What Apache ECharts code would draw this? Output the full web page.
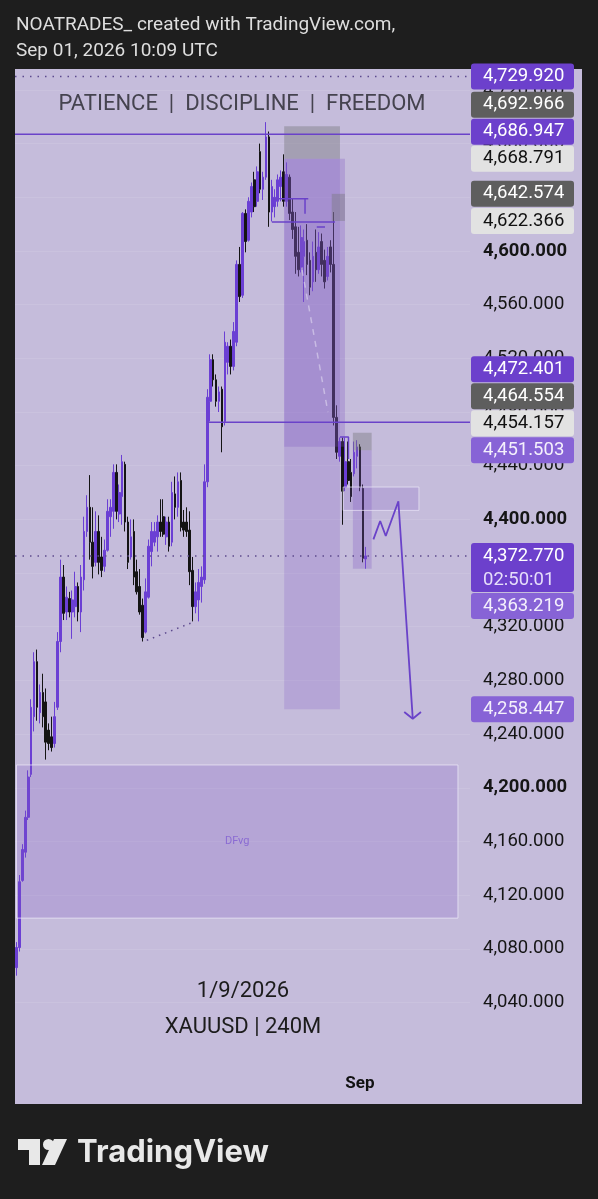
<!DOCTYPE html>
<html><head><meta charset="utf-8">
<script src="https://cdn.jsdelivr.net/npm/echarts@6/dist/echarts.min.js"></script>
<style>html,body{margin:0;padding:0;background:#1e1e1e;}#c{width:598px;height:1199px;}</style>
</head><body><div id="c"></div>
<script>
// ---------- data ----------
// XAUUSD 240M candles: [open, close, low, high]
const candles = [
[4066,4081,4060,4085],[4081,4130,4078,4135],[4131,4154,4130,4158],[4152,4178,4148,4183],
[4178,4208,4176,4213],[4210,4260,4208,4266],[4253,4294,4242,4301],[4294,4260,4250,4303],
[4256,4271,4248,4277],[4271,4253,4245,4285],[4264,4234,4221,4274],[4243,4233,4228,4248],
[4238,4230,4227,4253],[4233,4253,4230,4264],[4260,4309,4258,4316],[4309,4357,4301,4370],
[4357,4330,4325,4366],[4331,4342,4325,4350],[4341,4331,4327,4346],[4331,4340,4311,4347],
[4335,4350,4327,4361],[4350,4331,4324,4353],[4331,4357,4316,4366],[4355,4391,4347,4402],
[4391,4409,4387,4418],[4409,4383,4370,4433],[4383,4365,4356,4409],[4368,4391,4365,4406],
[4391,4368,4359,4403],[4372,4362,4357,4387],[4365,4377,4361,4385],[4377,4406,4376,4415],
[4402,4409,4387,4415],[4406,4435,4393,4441],[4435,4406,4400,4441],[4404,4420,4398,4426],
[4417,4443,4396,4448],[4441,4398,4391,4443],[4398,4368,4363,4402],[4372,4387,4370,4400],
[4391,4357,4351,4400],[4361,4346,4344,4370],[4350,4331,4329,4363],[4336,4312,4309,4341],
[4316,4346,4315,4356],[4342,4380,4341,4385],[4376,4391,4365,4398],[4383,4391,4380,4398],
[4387,4398,4376,4403],[4398,4391,4387,4415],[4402,4389,4387,4415],[4387,4398,4381,4402],
[4398,4380,4376,4402],[4383,4420,4380,4428],[4419,4409,4400,4432],[4409,4428,4402,4435],
[4429,4394,4391,4435],[4398,4392,4387,4407],[4398,4391,4387,4409],[4392,4361,4351,4406],
[4362,4335,4324,4372],[4335,4346,4330,4353],[4340,4353,4324,4363],[4350,4357,4338,4365],
[4355,4428,4352,4441],[4428,4491,4424,4497],[4488,4519,4473,4523],[4519,4504,4499,4523],
[4504,4488,4484,4508],[4488,4495,4480,4499],[4497,4469,4450,4499],[4473,4532,4470,4540],
[4517,4529,4508,4532],[4529,4514,4508,4534],[4514,4540,4511,4547],[4532,4590,4529,4593],
[4590,4566,4562,4603],[4567,4628,4565,4629],[4628,4607,4599,4631],[4608,4637,4607,4640],
[4629,4648,4625,4651],[4653,4633,4629,4659],[4637,4659,4633,4663],[4674,4646,4643,4680],
[4646,4655,4638,4659],[4655,4685,4653,4696],[4685,4629,4618,4689],[4629,4648,4622,4653],
[4633,4640,4625,4646],[4637,4653,4633,4657],[4648,4655,4637,4660],[4659,4637,4633,4672],
[4637,4657,4633,4666],[4655,4628,4623,4657],[4629,4616,4609,4639],[4618,4596,4583,4629],
[4599,4586,4581,4618],[4588,4610,4584,4619],[4596,4607,4562,4616],[4608,4590,4582,4620],
[4593,4573,4567,4599],[4577,4596,4570,4607],[4599,4586,4577,4616],[4586,4603,4583,4614],
[4607,4590,4581,4613],[4593,4577,4572,4601],[4581,4596,4578,4603],[4603,4590,4584,4608],
[4590,4476,4470,4629],[4476,4450,4445,4485],[4447,4458,4443,4461],[4458,4421,4396,4461],
[4424,4443,4421,4461],[4443,4429,4426,4458],[4435,4417,4413,4445],[4434,4450,4432,4458],
[4447,4454,4438,4459],[4454,4424,4421,4456],[4423,4371,4368,4426],[4370.5,4372.77,4363.22,4379.5]
];
const slotCount = 155;                       // bar slots on the time axis (incl. right margin)
const timeTicks = [{ index: 117, label: 'Sep' }];
const priceRange = [3962.9, 4734.1];
const priceTicks = [4040,4080,4120,4160,4200,4240,4280,4320,4360,4400,4440,4480,4520,4560,4600,4640,4680,4720];
const currentPrice = 4372.770;
const countdown = '02:50:01';
// drawings: [bar index, price]
const levelLines = [ { from: -0.5, price: 4686.947 }, { from: 64.9, price: 4472.401 } ];
const dottedLevels = [4729.920, currentPrice];
const lowsTrendline = [[44.4, 4309.9], [60.3, 4323.5]];
const structureMarks = [
  [[87.0, 4639.0], [99.4, 4639.0]],
  [[98.3, 4639.0], [98.3, 4627.8]],
  [[87.0, 4621.6], [108.5, 4621.6]],
  [[102.3, 4617.9], [105.1, 4617.9]],
  [[110.2, 4461.4], [113.1, 4461.4], [113.1, 4445.0]]
];
const dashedPath = [[97.3, 4585.8], [106.1, 4480.0]];
const projection = [[121.6, 4385.1], [123.9, 4398.8], [125.8, 4387.6], [130.1, 4413.5], [135.0, 4251.5]];
const arrowHead = [[132.1, 4256.5], [135.0, 4251.5], [137.8, 4256.5]];
// boxes: [x0, x1, priceTop, priceBottom]
const zoneBoxes = [[91.2, 110.2, 4668.791, 4258.447]];
const zoneUpperBoxes = [[91.2, 111.9, 4668.791, 4454.157]];
const greyBoxes = [[91.2, 110.2, 4692.966, 4668.791], [107.4, 111.9, 4642.574, 4622.366], [114.6, 121.0, 4464.554, 4451.503]];
const entryBoxes = [[114.6, 121.0, 4451.503, 4363.219]];
const targetBoxes = [[111.3, 137.1, 4424.1, 4406.7]];
const fvgBoxes = [[0.0, 150.4, 4217.0, 4102.9, 'DFvg']];
const priceLabels = [
  { price: 4729.920, kind: 'purple' }, { price: 4692.966, kind: 'dark' },
  { price: 4686.947, kind: 'purple' }, { price: 4668.791, kind: 'light' },
  { price: 4642.574, kind: 'dark' },   { price: 4622.366, kind: 'light' },
  { price: 4472.401, kind: 'purple' }, { price: 4464.554, kind: 'dark' },
  { price: 4454.157, kind: 'light' },  { price: 4451.503, kind: 'soft' },
  { price: currentPrice, kind: 'purple', sub: countdown },
  { price: 4363.219, kind: 'soft' },   { price: 4258.447, kind: 'soft' }
];
const headerLines = ['NOATRADES_ created with TradingView.com,', 'Sep 01, 2026 10:09 UTC'];
const watermarkTop = 'PATIENCE  |  DISCIPLINE  |  FREEDOM';
const watermarkBottom = ['1/9/2026', 'XAUUSD | 240M'];

// ---------- chart ----------
const FONT = 'Roboto, "Noto Sans", sans-serif';
const slots = Array.from({ length: slotCount }, (_, i) => String(i));
const tickMap = {}; timeTicks.forEach(t => tickMap[t.index] = t.label);
const fmt = v => { const s = Number(v).toFixed(3).split('.'); return s[0].replace(/\B(?=(\d{3})+(?!\d))/g, ',') + '.' + s[1]; };

const chart = echarts.init(document.getElementById('c'), null, { renderer: 'canvas', width: 598, height: 1199 });

function boxSeries(name, boxes, style, z) {
  return {
    type: 'custom', name, xAxisIndex: 1, yAxisIndex: 0, z, silent: true,
    data: boxes.map((b, i) => [b[0], b[1], b[2], b[3], i]),
    renderItem(params, api) {
      const b = boxes[api.value(4)];
      const p0 = api.coord([b[0], b[2]]);
      const p1 = api.coord([b[1], b[3]]);
      const children = [{ type: 'rect', shape: { x: p0[0], y: p0[1], width: p1[0] - p0[0], height: p1[1] - p0[1] }, style }];
      if (b[4]) children.push({ type: 'text', style: { text: b[4], x: (p0[0] + p1[0]) / 2, y: (p0[1] + p1[1]) / 2, align: 'center', verticalAlign: 'middle', fill: '#8a6bd3', font: '11px ' + FONT } });
      return { type: 'group', children };
    }
  };
}
function lineSeries(points, lineStyle, z) {
  return { type: 'line', xAxisIndex: 1, yAxisIndex: 0, data: points, symbol: 'none', silent: true, z, lineStyle, animation: false };
}

const series = [
  {
    type: 'candlestick', xAxisIndex: 0, yAxisIndex: 0, data: candles, z: 2, barWidth: 2.2,
    itemStyle: { color: '#6b3fd4', color0: '#141414', borderColor: '#6b3fd4', borderColor0: '#141414', borderWidth: 1 }
  },
  boxSeries('fvg', fvgBoxes, { fill: 'rgba(126,87,194,0.22)', stroke: 'rgba(236,232,248,0.75)', lineWidth: 1 }, 3),
  boxSeries('zone', zoneBoxes, { fill: 'rgba(126,87,194,0.22)' }, 3),
  boxSeries('zoneUpper', zoneUpperBoxes, { fill: 'rgba(126,87,194,0.28)' }, 3),
  boxSeries('grey', greyBoxes, { fill: 'rgba(120,120,125,0.42)' }, 3),
  boxSeries('entry', entryBoxes, { fill: 'rgba(126,87,194,0.28)' }, 3),
  boxSeries('target', targetBoxes, { fill: 'rgba(126,87,194,0.2)', stroke: 'rgba(236,232,248,0.7)', lineWidth: 1 }, 3),
];
levelLines.forEach(l => series.push(lineSeries([[l.from, l.price], [slotCount - 0.5, l.price]], { color: '#6a42c9', width: 1.5 }, 5)));
dottedLevels.forEach(p => series.push(lineSeries([[-0.5, p], [slotCount - 1.5, p]], { color: '#5d4a8e', width: 1.5, type: [1.5, 6] }, 5)));
series.push(lineSeries(lowsTrendline, { color: '#5d4a8e', width: 1.5, type: [1.5, 5] }, 5));
structureMarks.forEach(s => series.push(lineSeries(s, { color: '#6a42c9', width: 1.5 }, 5)));
series.push(lineSeries(dashedPath, { color: 'rgba(236,232,248,0.5)', width: 1.5, type: [6, 6] }, 5));
series.push(lineSeries(projection, { color: '#6a42c9', width: 1.8 }, 5));
series.push(lineSeries(arrowHead, { color: '#6a42c9', width: 1.8 }, 5));

const staticGraphic = [
  { id: 'bg', type: 'rect', z: -5, shape: { x: 15, y: 69, width: 567, height: 1035 }, style: { fill: '#c5bcdb' }, silent: true },
  { id: 'h1', type: 'text', x: 16, y: 25, style: { text: headerLines[0], fill: '#dedede', font: '19px ' + FONT, verticalAlign: 'middle' } },
  { id: 'h2', type: 'text', x: 16, y: 51, style: { text: headerLines[1], fill: '#dedede', font: '19px ' + FONT, verticalAlign: 'middle' } },
  { id: 'wm1', type: 'text', z: -1, x: 242, y: 104, style: { text: watermarkTop, fill: '#45434f', font: '22px ' + FONT, align: 'center', verticalAlign: 'middle' } },
  { id: 'wm2', type: 'text', z: -1, x: 243, y: 991, style: { text: watermarkBottom[0], fill: '#1c1c1c', font: '22px ' + FONT, align: 'center', verticalAlign: 'middle' } },
  { id: 'wm3', type: 'text', z: -1, x: 243, y: 1027, style: { text: watermarkBottom[1], fill: '#1c1c1c', font: '22px ' + FONT, align: 'center', verticalAlign: 'middle' } },
  // TradingView logo
  { id: 'lg1', type: 'polygon', shape: { points: [[18, 1139], [40, 1139], [40, 1165], [29, 1165], [29, 1150], [18, 1150]] }, style: { fill: '#e8e8e8' } },
  { id: 'lg2', type: 'circle', shape: { cx: 48.5, cy: 1144.5, r: 5.5 }, style: { fill: '#e8e8e8' } },
  { id: 'lg3', type: 'polygon', shape: { points: [[54, 1139], [67, 1139], [55, 1165], [42, 1165]] }, style: { fill: '#e8e8e8' } },
  { id: 'lg4', type: 'text', x: 77, y: 1153, style: { text: 'TradingView', fill: '#e8e8e8', font: 'bold 31px Inter, "Open Sans", sans-serif', verticalAlign: 'middle' } }
];

chart.setOption({
  animation: false,
  backgroundColor: '#1e1e1e',
  grid: { left: 15, right: 128, top: 71, bottom: 93, containLabel: false },
  xAxis: [
    { type: 'category', data: slots, boundaryGap: true, axisLine: { show: false }, axisTick: { show: false }, splitLine: { show: false },
      axisLabel: { inside: true, margin: 14, interval: (i) => tickMap[i] !== undefined, formatter: (v, i) => tickMap[i] || '',
        color: '#111', fontWeight: 'bold', fontSize: 17, fontFamily: FONT } },
    { type: 'value', min: -0.5, max: slotCount - 0.5, show: false }
  ],
  yAxis: {
    type: 'value', position: 'right', min: priceRange[0], max: priceRange[1],
    axisLine: { show: false }, axisTick: { show: false, customValues: priceTicks },
    splitLine: { show: true, lineStyle: { color: 'rgba(255,255,255,0.10)', width: 1 } },
    axisLabel: { customValues: priceTicks, margin: 13, align: 'left', color: '#151515', fontSize: 18.5, fontFamily: FONT,
      formatter: v => (Math.round(v) % 200 === 0 ? '{b|' + fmt(v) + '}' : fmt(v)),
      rich: { b: { fontWeight: 'bold', fontSize: 18.5, fontFamily: FONT, color: '#151515' } } }
  },
  graphic: staticGraphic,
  series
});

// ---------- axis price labels (stacked like TradingView) ----------
const kinds = {
  purple: { fill: '#6c40cc', text: '#ffffff' },
  soft: { fill: '#8763d6', text: '#f4f0fc' },
  dark: { fill: '#5e5e5e', text: '#ffffff' },
  light: { fill: '#e2e2e2', text: '#111111' }
};
const items = priceLabels.map(l => ({ ...l, y: chart.convertToPixel({ yAxisIndex: 0 }, l.price), up: 13, down: l.sub ? 36 : 13 }));
items.sort((a, b) => a.y - b.y);
for (let i = items.length - 2; i >= 0; i--) {
  if (items[i].sub) continue;
  const below = items[i + 1];
  const maxY = below.y - below.up - 1 - items[i].down;
  if (items[i].y > maxY) items[i].y = maxY;
}
for (let i = 1; i < items.length; i++) {
  const above = items[i - 1];
  const minY = above.y + above.down + 1 + items[i].up;
  if (items[i].y < minY) items[i].y = minY;
}
const labelGraphics = [];
items.forEach((it, k) => {
  const st = kinds[it.kind];
  labelGraphics.push({ id: 'lb' + k, type: 'rect', z: 50, shape: { x: 471, y: it.y - it.up, width: 103, height: it.up + it.down, r: 3 }, style: { fill: st.fill } });
  labelGraphics.push({ id: 'lt' + k, type: 'text', z: 51, x: 483, y: it.y, style: { text: fmt(it.price), fill: st.text, font: '18.5px ' + FONT, verticalAlign: 'middle' } });
  if (it.sub) labelGraphics.push({ id: 'ls' + k, type: 'text', z: 51, x: 483, y: it.y + 24, style: { text: it.sub, fill: '#e6defa', font: '18.5px ' + FONT, verticalAlign: 'middle' } });
});
chart.setOption({ graphic: staticGraphic.concat(labelGraphics) });
</script>
</body></html>
